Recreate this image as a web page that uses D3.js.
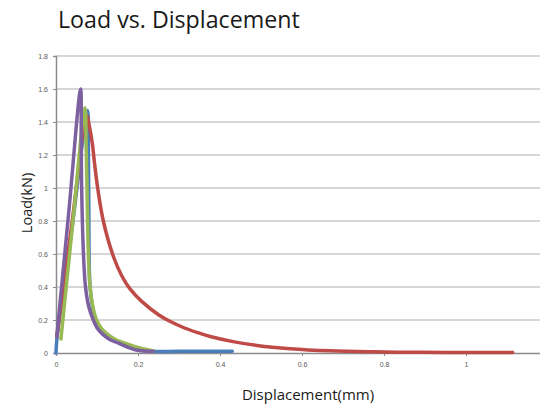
<!DOCTYPE html>
<html>
<head>
<meta charset="utf-8">
<script src="https://cdn.jsdelivr.net/npm/d3@7"></script>
<style>
  html, body { margin: 0; padding: 0; background: #fff; }
  svg { display: block; }
</style>
</head>
<body>
<svg id="chart" width="540" height="405"></svg>
<script>
// Load–displacement test curves, one array pair per specimen
const blueX   = [0, 0.002, 0.04, 0.077, 0.079, 0.08, 0.082, 0.086, 0.092, 0.1, 0.112, 0.127, 0.145, 0.168, 0.205, 0.237, 0.3, 0.43];
const blueY   = [0, 0.08, 0.775, 1.47, 1.2, 0.9, 0.45, 0.33, 0.24, 0.18, 0.13, 0.1, 0.075, 0.05, 0.025, 0.01, 0.01, 0.01];

const redX    = [0.002, 0.038, 0.075, 0.0805, 0.0886, 0.0935, 0.1016, 0.1154, 0.14, 0.16, 0.18, 0.209, 0.25, 0.274, 0.315, 0.35, 0.376, 0.432, 0.49, 0.571, 0.668, 0.773, 0.895, 1.0, 1.114];
const redY    = [0.1, 0.77, 1.44, 1.385, 1.27, 1.16, 1.0, 0.8, 0.585, 0.47, 0.39, 0.313, 0.232, 0.197, 0.15, 0.12, 0.1, 0.069, 0.046, 0.026, 0.013, 0.007, 0.004, 0.003, 0.003];

const greenX  = [0.012, 0.041, 0.0707, 0.0735, 0.0756, 0.079, 0.083, 0.09, 0.099, 0.112, 0.127, 0.145, 0.168, 0.205, 0.237];
const greenY  = [0.085, 0.79, 1.487, 1.25, 1.0, 0.6, 0.4, 0.28, 0.2, 0.145, 0.111, 0.082, 0.06, 0.03, 0.012];

const purpleX = [0.002, 0.031, 0.06, 0.0615, 0.0626, 0.067, 0.072, 0.08, 0.091, 0.102, 0.115, 0.132, 0.152, 0.193, 0.237];
const purpleY = [0.1, 0.85, 1.6, 1.3, 1.0, 0.6, 0.4, 0.28, 0.2, 0.145, 0.111, 0.08, 0.06, 0.02, 0.01];

const seriesColors = ["#4a7ebb", "#be4b48", "#98b954", "#7d60a0"];
const yTicks = [0, 0.2, 0.4, 0.6, 0.8, 1, 1.2, 1.4, 1.6, 1.8];
const xTicks = [0, 0.2, 0.4, 0.6, 0.8, 1];

const titleText = "Load vs. Displacement";
const xTitle = "Displacement(mm)";
const yTitle = "Load(kN)";

const svg = d3.select("#chart");
const plot = { left: 56, right: 548, top: 56, bottom: 353 };

const x = d3.scaleLinear().domain([0, 1.2]).range([plot.left, plot.right]);
const y = d3.scaleLinear().domain([0, 1.8]).range([plot.bottom, plot.top]);

// horizontal gridlines
svg.append("g")
  .selectAll("line")
  .data(yTicks.filter(d => d > 0))
  .join("line")
  .attr("x1", plot.left).attr("x2", 540)
  .attr("y1", d => y(d)).attr("y2", d => y(d))
  .attr("stroke", "#c8c8c8").attr("stroke-width", 1.5);

// y axis
const yAxis = svg.append("g")
  .attr("transform", `translate(${plot.left},0)`)
  .call(d3.axisLeft(y).tickValues(yTicks).tickSize(3).tickPadding(5)
    .tickFormat(d => d3.format("~g")(d)));
yAxis.select(".domain").attr("stroke", "#8c8c8c").attr("stroke-width", 1.5);
yAxis.selectAll(".tick line").attr("stroke", "#8c8c8c");
yAxis.selectAll("text").attr("fill", "#595959").style("font", "7px 'Liberation Sans', sans-serif");

// x axis
const xAxis = svg.append("g")
  .attr("transform", `translate(0,${plot.bottom})`)
  .call(d3.axisBottom(x).tickValues(xTicks).tickSize(3).tickPadding(6)
    .tickFormat(d => d3.format("~g")(d)));
xAxis.select(".domain").attr("stroke", "#8c8c8c").attr("stroke-width", 1.5);
xAxis.selectAll(".tick line").attr("stroke", "#8c8c8c");
xAxis.selectAll("text").attr("fill", "#595959").style("font", "7px 'Liberation Sans', sans-serif");

// curves
const seriesData = [
  d3.zip(blueX, blueY),
  d3.zip(redX, redY),
  d3.zip(greenX, greenY),
  d3.zip(purpleX, purpleY)
];
const line = d3.line()
  .x(d => x(d[0]))
  .y(d => y(d[1]))
  .curve(d3.curveCatmullRom.alpha(0.5));

svg.append("g")
  .selectAll("path")
  .data(seriesData)
  .join("path")
  .attr("d", line)
  .attr("fill", "none")
  .attr("stroke", (d, i) => seriesColors[i])
  .attr("stroke-width", 3.5)
  .attr("stroke-linejoin", "round")
  .attr("stroke-linecap", "round");

// titles
svg.append("text")
  .attr("x", 58).attr("y", 28)
  .attr("fill", "#1a1a1a")
  .style("font", "23.2px 'Open Sans', sans-serif")
  .text(titleText);

svg.append("text")
  .attr("x", 308).attr("y", 400)
  .attr("text-anchor", "middle")
  .attr("fill", "#1a1a1a")
  .style("font", "15px 'Open Sans', sans-serif")
  .text(xTitle);

svg.append("text")
  .attr("transform", "translate(32,203) rotate(-90)")
  .attr("text-anchor", "middle")
  .attr("fill", "#1a1a1a")
  .style("font", "14.5px 'Open Sans', sans-serif")
  .text(yTitle);
</script>
</body>
</html>
